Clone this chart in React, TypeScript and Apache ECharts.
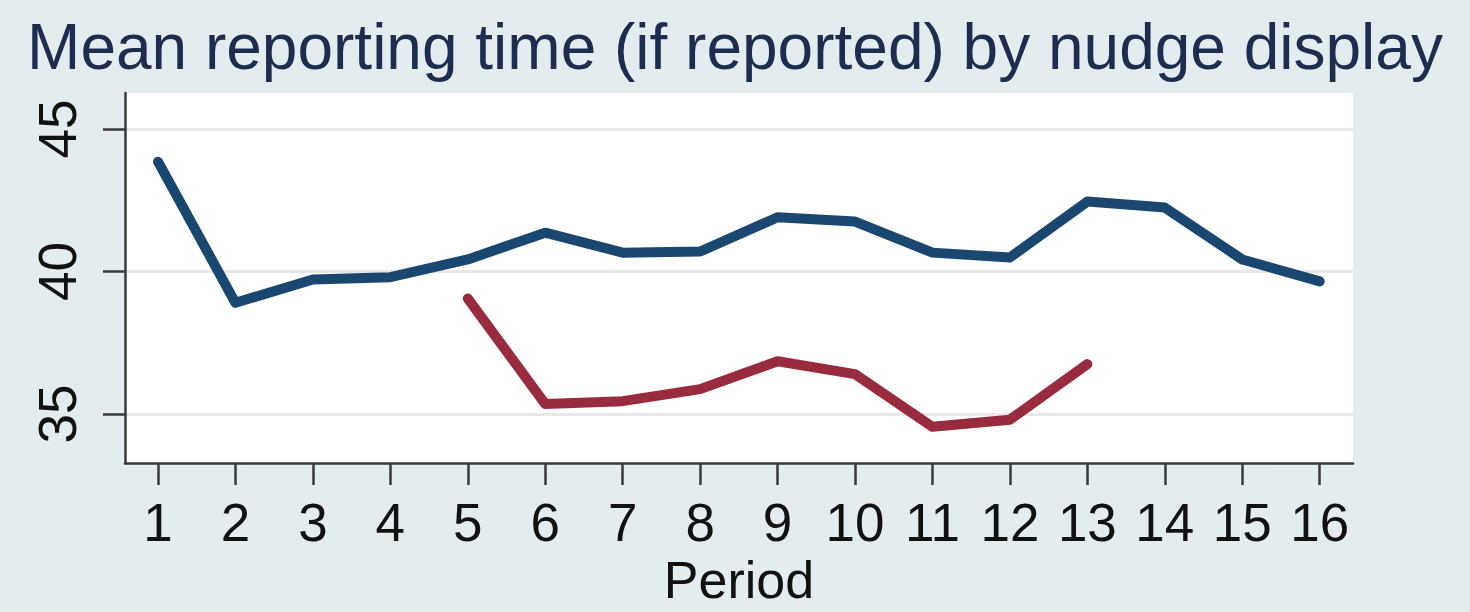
import React, { useEffect, useRef } from "react";
import * as echarts from "echarts";

const titleText = "Mean reporting time (if reported) by nudge display";
const xAxisTitle = "Period";
const periods = [1, 2, 3, 4, 5, 6, 7, 8, 9, 10, 11, 12, 13, 14, 15, 16];
const yTicks = [35, 40, 45];
const navySeries = [43.85, 38.9, 39.72, 39.8, 40.42, 41.36, 40.66, 40.7, 41.9, 41.75, 40.66, 40.49, 42.45, 42.24, 40.42, 39.65];
const maroonSeries = [null, null, null, null, 39.05, 35.35, 35.45, 35.87, 36.85, 36.4, 34.55, 34.8, 36.75, null, null, null];

const FONT = "'Liberation Sans', Arial, Helvetica, sans-serif";

export default function App() {
  const ref = useRef<HTMLDivElement>(null);
  useEffect(() => {
    if (!ref.current) return;
    const chart = echarts.init(ref.current, null, { renderer: "svg" });
    const axisColor = "#3a3a3a";
    chart.setOption({
      animation: false,
      backgroundColor: "#e3edef",
      title: {
        text: titleText,
        left: "center",
        top: 10,
        textStyle: { fontFamily: FONT, fontSize: 64, fontWeight: "normal", color: "#1d2c4f" },
      },
      grid: {
        left: 125,
        right: 117,
        top: 93,
        bottom: 149,
        show: true,
        backgroundColor: "#ffffff",
        borderWidth: 0,
      },
      xAxis: {
        type: "value",
        min: 0.574,
        max: 16.43,
        name: xAxisTitle,
        nameLocation: "middle",
        nameGap: 90,
        nameTextStyle: { fontFamily: FONT, fontSize: 52, color: "#111" },
        axisLine: { show: true, onZero: false, lineStyle: { color: axisColor, width: 2.5 } },
        axisTick: { show: true, length: 22, customValues: periods, lineStyle: { color: axisColor, width: 2.5 } },
        axisLabel: { customValues: periods, margin: 33, fontFamily: FONT, fontSize: 53, color: "#111" },
        splitLine: { show: false },
      },
      yAxis: {
        type: "value",
        min: 33.28,
        max: 46.26,
        axisLine: { show: true, lineStyle: { color: axisColor, width: 2.5 } },
        axisTick: { show: true, length: 22, customValues: yTicks, lineStyle: { color: axisColor, width: 2.5 } },
        axisLabel: { customValues: yTicks, rotate: 90, margin: 41, fontFamily: FONT, fontSize: 53, color: "#111" },
        splitLine: { show: true, lineStyle: { color: "#e8e8e8", width: 3 } },
      },
      series: [
        {
          name: "Nudge not displayed",
          type: "line",
          data: periods.map((p, i) => [p, navySeries[i]]),
          showSymbol: false,
          symbol: "none",
          lineStyle: { color: "#1a476f", width: 10, cap: "round", join: "round" },
        },
        {
          name: "Nudge displayed",
          type: "line",
          data: periods.map((p, i) => [p, maroonSeries[i]]),
          showSymbol: false,
          symbol: "none",
          connectNulls: false,
          lineStyle: { color: "#982b3e", width: 10, cap: "round", join: "round" },
        },
      ],
    });
    return () => chart.dispose();
  }, []);
  return (
    <div
      ref={ref}
      style={{ position: "absolute", left: 0, top: 0, width: 1470, height: 612 }}
    />
  );
}
